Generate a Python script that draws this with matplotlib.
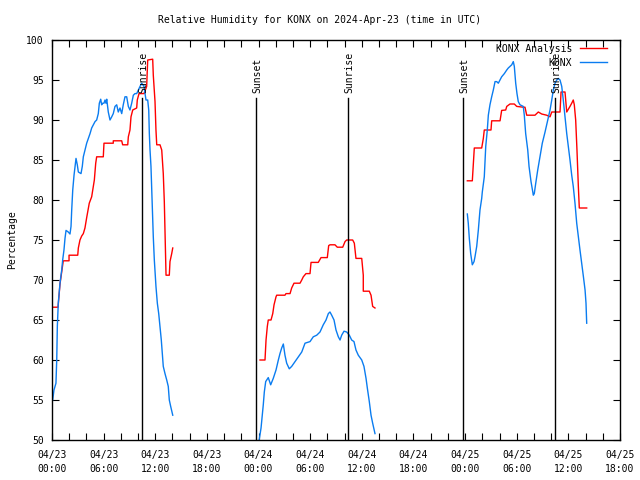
import numpy as np
import matplotlib
matplotlib.use("Agg")
import matplotlib.pyplot as plt
from matplotlib.ticker import MultipleLocator, FixedLocator

nan = np.nan

# Hours since 2024-04-23 00:00 UTC
analysis_hours = [
    0.00, 0.70, 0.93, 1.16, 1.31, 1.98, 1.98, 2.99, 3.06, 3.25, 3.45, 3.64, 3.83, 4.03, 4.33, 4.61,
    4.80, 4.92, 5.08, 5.19, 5.96, 6.04, 7.12, 7.12, 8.10, 8.21, 8.80, 8.87, 9.06, 9.18, 9.38, 9.84,
    9.91, 10.11, 10.69, 11.00, 11.12, 11.70, 11.77, 11.97, 12.08, 12.17, 12.55, 12.75, 12.93, 13.05,
    13.13, 13.21, 13.25, 13.63, 13.71, 13.91, 14.03,
    nan,
    24.17, 24.75, 24.87, 25.02, 25.13, 25.45, 25.65, 25.80, 26.03, 26.11, 27.07, 27.19, 27.66, 27.85,
    28.12, 28.82, 29.02, 29.20, 29.51, 29.98, 30.10, 30.94, 31.26, 31.99, 32.15, 32.30, 32.88, 33.15,
    33.78, 34.05, 34.24, 34.94, 35.13, 35.32, 35.99, 36.17, 36.17, 36.87, 37.07, 37.26, 37.53,
    nan,
    48.26, 48.84, 48.95, 49.07, 49.93, 50.12, 50.23, 51.01, 51.09, 52.06, 52.25, 52.72, 52.84, 53.22,
    53.72, 54.00, 54.76, 54.96, 55.16, 56.12, 56.51, 56.90, 57.48, 57.87, 58.07, 59.03, 59.15, 59.61,
    59.81, 60.19, 60.39, 60.57, 60.69, 60.85, 61.00, 61.16, 61.27, 62.13,
]
analysis_rh = [
    66.6, 66.6, 69.5, 71.2, 72.4, 72.4, 73.1, 73.1, 74.0, 75.0, 75.5, 75.8, 76.5, 77.8, 79.6, 80.4,
    81.7, 82.5, 84.6, 85.4, 85.4, 87.1, 87.1, 87.4, 87.4, 86.9, 86.9, 87.9, 88.75, 90.4, 91.25, 91.5,
    92.5, 93.3, 93.3, 94.2, 97.5, 97.6, 95.6, 92.3, 88.75, 86.9, 86.9, 86.25, 83.3, 79.8,
    76.25, 72.5, 70.6, 70.6, 72.3, 73.3, 74.0,
    nan,
    60.0, 60.0, 62.5, 64.2, 65.0, 65.0, 65.8, 66.9, 67.9, 68.1, 68.1, 68.3, 68.3, 69.0,
    69.6, 69.6, 70.0, 70.4, 70.8, 70.8, 72.2, 72.2, 72.8, 72.8, 74.3, 74.4, 74.4, 74.1,
    74.1, 74.8, 75.0, 75.0, 74.6, 72.7, 72.7, 70.6, 68.6, 68.6, 68.1, 66.7, 66.5,
    nan,
    82.4, 82.4, 84.4, 86.5, 86.5, 87.7, 88.75, 88.75, 89.9, 89.9, 91.2, 91.25, 91.7, 92.0,
    92.0, 91.7, 91.6, 91.6, 90.6, 90.6, 91.0, 90.75, 90.6, 90.4, 91.0, 91.0, 93.5, 93.5,
    91.0, 91.7, 92.1, 92.5, 91.9, 90.0, 86.25, 81.7, 79.0, 79.0,
]

obs_hours = [
    0.08, 0.23, 0.46, 0.55, 0.62, 0.73, 0.93, 1.13, 1.24, 1.39, 1.51, 1.63, 1.89, 2.09, 2.21, 2.29,
    2.41, 2.56, 2.71, 2.79, 2.94, 3.06, 3.37, 3.52, 3.64, 3.83, 4.03, 4.22, 4.42, 4.61, 4.80, 5.00,
    5.19, 5.38, 5.50, 5.66, 5.77, 5.89, 6.04, 6.16, 6.27, 6.36, 6.54, 6.74, 6.94, 7.12, 7.32, 7.52,
    7.70, 7.90, 8.10, 8.28, 8.48, 8.68, 8.87, 9.06, 9.26, 9.45, 9.64, 9.84, 10.03, 10.23, 10.42,
    10.69, 10.81, 10.92, 11.12, 11.24, 11.31, 11.39, 11.50, 11.58, 11.70, 11.77, 11.89, 12.08, 12.24,
    12.40, 12.55, 12.70, 12.82, 12.93, 13.13, 13.33, 13.51, 13.63, 13.79, 14.03,
    nan,
    24.00, 24.29, 24.44, 24.55, 24.67, 24.83, 25.13, 25.41, 25.71, 26.03, 26.30, 26.49, 26.69, 26.88,
    27.07, 27.27, 27.57, 27.85, 28.24, 28.62, 29.02, 29.40, 29.98, 30.36, 30.76, 31.14, 31.52, 31.84,
    32.11, 32.30, 32.50, 32.77, 33.00, 33.27, 33.47, 33.66, 33.93, 34.24, 34.55, 34.82, 35.09, 35.32,
    35.59, 35.99, 36.25, 36.49, 36.64, 36.87, 37.07, 37.26, 37.53,
    nan,
    48.26, 48.37, 48.49, 48.65, 48.84, 49.04, 49.15, 49.35, 49.54, 49.73, 49.93, 50.00, 50.23, 50.40,
    50.58, 50.70, 50.89, 51.09, 51.28, 51.48, 51.67, 51.86, 52.06, 52.25, 52.56, 52.84, 53.02, 53.22,
    53.42, 53.60, 53.72, 53.88, 54.03, 54.18, 54.38, 54.76, 54.88, 55.04, 55.28, 55.43, 55.66, 55.93,
    56.04, 56.21, 56.44, 56.70, 56.97, 57.29, 57.60, 57.87, 58.07, 58.25, 58.45, 58.65, 58.83, 59.03,
    59.23, 59.41, 59.61, 59.81, 60.00, 60.19, 60.39, 60.57, 60.77, 60.97, 61.16, 61.35, 61.55, 61.75,
    61.94, 62.05, 62.13,
]
obs_rh = [
    55.0, 56.25, 57.1, 60.0, 64.2, 67.1, 69.6, 71.25, 72.5, 73.75, 75.2, 76.2, 76.0, 75.75, 76.7, 78.75,
    81.25, 83.1, 84.4, 85.2, 84.4, 83.5, 83.3, 84.2, 85.4, 86.25, 87.1, 87.7, 88.3, 89.0, 89.4, 89.8,
    90.0, 90.8, 92.1, 92.6, 91.9, 92.1, 92.1, 92.5, 92.1, 92.6, 91.0, 90.0, 90.4, 90.8, 91.7, 91.9,
    91.0, 91.5, 90.8, 91.9, 92.9, 92.9, 91.7, 91.25, 92.1, 93.1, 93.3, 93.3, 93.75, 94.2, 94.6,
    94.2, 93.3, 92.5, 92.5, 91.25, 88.3, 86.25, 84.2, 81.7, 78.3, 75.4, 72.5, 69.2, 67.1,
    65.8, 64.2, 62.5, 60.8, 59.2, 58.3, 57.5, 56.7, 55.0, 54.2, 53.1,
    nan,
    49.5, 51.5, 53.1, 54.4, 56.0, 57.3, 57.8, 56.9, 57.7, 58.75, 60.0, 60.8, 61.5, 62.0,
    60.6, 59.6, 58.9, 59.2, 59.8, 60.4, 61.0, 62.1, 62.3, 62.9, 63.1, 63.5, 64.4, 65.0,
    65.8, 66.0, 65.6, 65.0, 63.75, 62.9, 62.5, 63.1, 63.6, 63.5, 63.1, 62.5, 62.3, 61.25,
    60.6, 60.0, 59.2, 57.7, 56.5, 54.8, 53.1, 52.1, 50.8,
    nan,
    78.25, 77.1, 75.2, 73.3, 71.9, 72.3, 72.9, 74.2, 76.25, 78.75, 80.2, 81.0, 82.9, 86.7,
    88.75, 90.6, 91.9, 92.9, 93.75, 94.8, 94.8, 94.6, 95.0, 95.4, 95.8, 96.25, 96.5, 96.7,
    96.9, 97.3, 96.7, 94.6, 93.3, 92.3, 91.9, 91.7, 90.6, 88.3, 86.25, 84.2, 82.3, 80.6,
    80.8, 82.1, 83.75, 85.4, 87.1, 88.5, 90.0, 91.25, 92.5, 93.75, 94.6, 95.0, 95.2, 95.0,
    94.2, 92.5, 90.4, 88.3, 86.7, 85.0, 83.1, 81.7, 79.6, 77.1, 75.4, 73.75, 72.1, 70.4,
    68.75, 67.1, 64.6,
]

sun_event_hours = [10.47, 23.75, 34.45, 47.79, 58.45]
sun_event_labels = ["Sunrise", "Sunset", "Sunrise", "Sunset", "Sunrise"]

tick_hours = [0, 6, 12, 18, 24, 30, 36, 42, 48, 54, 60, 66]
tick_labels = ["04/23\n00:00", "04/23\n06:00", "04/23\n12:00", "04/23\n18:00",
               "04/24\n00:00", "04/24\n06:00", "04/24\n12:00", "04/24\n18:00",
               "04/25\n00:00", "04/25\n06:00", "04/25\n12:00", "04/25\n18:00"]

title = "Relative Humidity for KONX on 2024-Apr-23 (time in UTC)"

FONT = "DejaVu Sans Mono"
FS = 7
plt.rcParams["font.family"] = FONT

fig = plt.figure(figsize=(6.4, 4.8), dpi=100)
ax = fig.add_axes([52/640, 1-440/480, 568/640, 400/480])

ax.plot(analysis_hours, analysis_rh, color="#ff0000", lw=1.0, label="KONX Analysis", clip_on=True)
ax.plot(obs_hours, obs_rh, color="#0a7cf0", lw=1.0, label="KONX", clip_on=True)

for h, lab in zip(sun_event_hours, sun_event_labels):
    ax.plot([h, h], [50, 92.8], color="black", lw=1.0)
    ax.text(h + 0.1, 93.4, lab, rotation=90, ha="center", va="bottom", fontsize=FS, family=FONT)

ax.set_xlim(0, 66)
ax.set_ylim(50, 100)
ax.xaxis.set_major_locator(FixedLocator(tick_hours))
ax.set_xticklabels(tick_labels)
ax.xaxis.set_minor_locator(MultipleLocator(2))
ax.yaxis.set_major_locator(MultipleLocator(5))
ax.tick_params(which="both", direction="in", top=True, right=True, length=5, width=0.8,
               labelsize=FS, pad=6)
ax.tick_params(axis="x", which="major", pad=7)
for t in ax.get_xticklabels():
    t.set_linespacing(1.5)
for sp in ax.spines.values():
    sp.set_linewidth(1.0)

leg = ax.legend(loc="upper right", bbox_to_anchor=(1 - 9/568, 1.0), markerfirst=False,
                frameon=False, fontsize=FS, handlelength=2.8, handletextpad=0.8,
                labelspacing=0.38, borderaxespad=0.2, borderpad=0.2)

fig.text(0.5, 1-20/480, title, ha="center", va="center", fontsize=FS, family=FONT)
fig.text(12/640, 0.5, "Percentage", rotation=90, ha="center", va="center", fontsize=FS, family=FONT)

fig.savefig("out.png", dpi=100)
